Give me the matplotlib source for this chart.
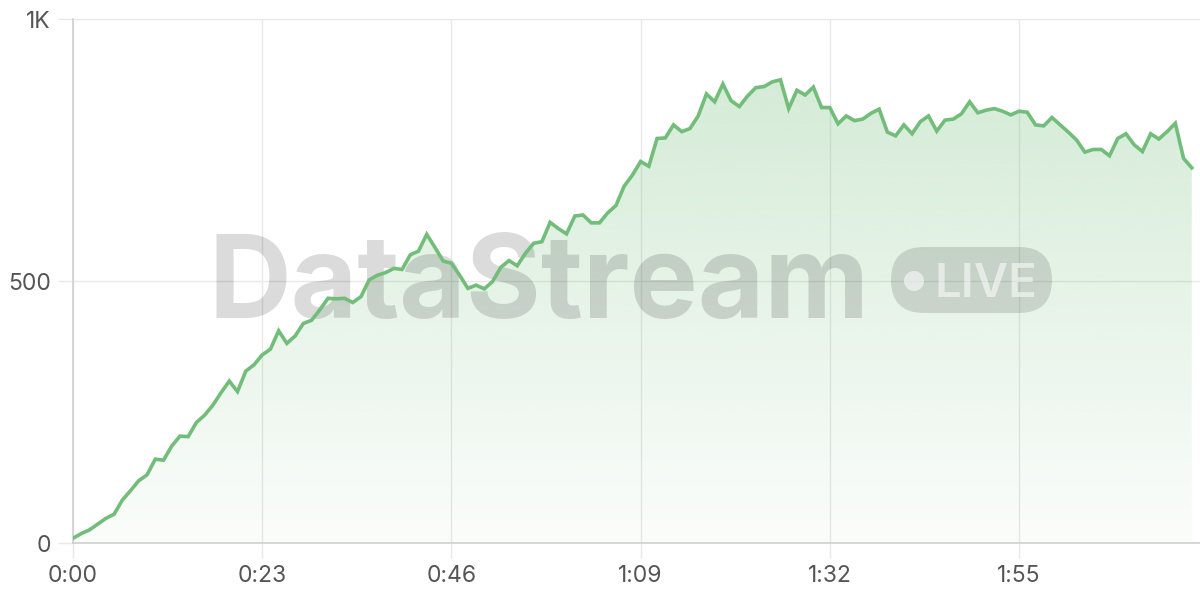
import matplotlib
matplotlib.use("Agg")
import matplotlib.pyplot as plt
import numpy as np
from matplotlib.patches import FancyBboxPatch, Circle
from matplotlib.transforms import IdentityTransform

plt.rcParams["font.family"] = ["Inter", "DejaVu Sans"]

# one sample per second, 0..136 s
values = [
    9, 18, 25, 36, 47, 55, 82, 100, 119, 130,
    160, 158, 185, 204, 203, 230, 244, 263, 287, 309,
    289, 328, 340, 359, 370, 405, 381, 395, 419, 425,
    445, 467, 466, 467, 459, 470, 502, 511, 516, 524,
    522, 550, 557, 589, 564, 538, 534, 511, 486, 492,
    485, 499, 526, 539, 529, 553, 572, 575, 612, 600,
    590, 624, 626, 611, 611, 630, 644, 681, 702, 728,
    719, 772, 773, 798, 785, 791, 815, 857, 842, 876,
    844, 833, 853, 869, 871, 880, 884, 829, 864, 855,
    870, 831, 831, 800, 815, 806, 809, 820, 828, 784,
    777, 798, 781, 804, 815, 786, 807, 809, 819, 842,
    821, 826, 829, 824, 817, 824, 822, 798, 796, 812,
    798, 784, 769, 746, 751, 751, 739, 772, 781, 760,
    747, 781, 771, 785, 801, 734, 716,
]
seconds = list(range(len(values)))

x_ticks = [0, 23, 46, 69, 92, 115]
x_tick_labels = ["0:00", "0:23", "0:46", "1:09", "1:32", "1:55"]
y_ticks = [0, 500, 1000]
y_tick_labels = ["0", "500", "1K"]

LINE = "#72bd7a"
GRID = "#e8e8e8"
AXIS = "#d0d0d0"
LABEL = "#555555"

W, H = 1200, 600
fig = plt.figure(figsize=(12, 6), dpi=100)
ax = fig.add_axes([73 / W, (H - 543) / H, (W - 73) / W, (543 - 19) / H])
ax.set_xlim(0, 137)
ax.set_ylim(0, 1000)

# gradient fill under the line
grad = np.linspace(0.03, 0.30, 256).reshape(-1, 1)
rgb = np.array(matplotlib.colors.to_rgb(LINE))
img = np.zeros((256, 1, 4))
img[..., :3] = rgb
img[..., 3] = grad
top = max(values)
im = ax.imshow(img, origin="lower", aspect="auto",
               extent=[0, seconds[-1], 0, top], zorder=2, interpolation="bicubic")
poly = ax.fill_between(seconds, values, 0, color="none", lw=0)
clip = poly.get_paths()[0]
im.set_clip_path(clip, transform=ax.transData)

ax.plot(seconds, values, color=LINE, lw=2.6, solid_joinstyle="miter", zorder=5)

ax.set_xticks(x_ticks)
ax.set_xticklabels(x_tick_labels)
ax.set_yticks(y_ticks)
ax.set_yticklabels(y_tick_labels)
ax.grid(True, color=GRID, lw=1.0, zorder=0)
ax.set_axisbelow(True)
ax.tick_params(axis="both", length=11, width=1.0, color=GRID,
               labelsize=16.5, labelcolor=LABEL)
ax.tick_params(axis="x", pad=5)
ax.tick_params(axis="y", pad=5)
for side in ("top", "right"):
    ax.spines[side].set_visible(False)
for side in ("left", "bottom"):
    ax.spines[side].set_color(AXIS)
    ax.spines[side].set_linewidth(1.2)

# watermark, between the fill and the line
wm = ax.text(208 / W, 1 - 318 / H, "DataStream", transform=fig.transFigure,
             fontsize=90, fontweight="bold", color="black", alpha=0.14,
             ha="left", va="baseline", zorder=4, clip_on=False)
fig.canvas.draw()
bb = wm.get_window_extent()
wm.set_fontsize(90 * 662 / bb.width)

idt = IdentityTransform()
pill = FancyBboxPatch((891, H - 313), 161, 66,
                      boxstyle="round,pad=0,rounding_size=33",
                      transform=idt, facecolor="black", alpha=0.13,
                      edgecolor="none", zorder=4, clip_on=False)
ax.add_artist(pill)
dot = Circle((914, H - 281), 10, transform=idt, facecolor="white",
             alpha=0.55, edgecolor="none", zorder=4, clip_on=False)
ax.add_artist(dot)
ax.text(935 / W, 1 - 297 / H, "LIVE", transform=fig.transFigure, fontsize=34,
        fontweight="semibold", color="white", alpha=0.55,
        ha="left", va="baseline", zorder=4, clip_on=False)

fig.savefig("out.png", dpi=100)
